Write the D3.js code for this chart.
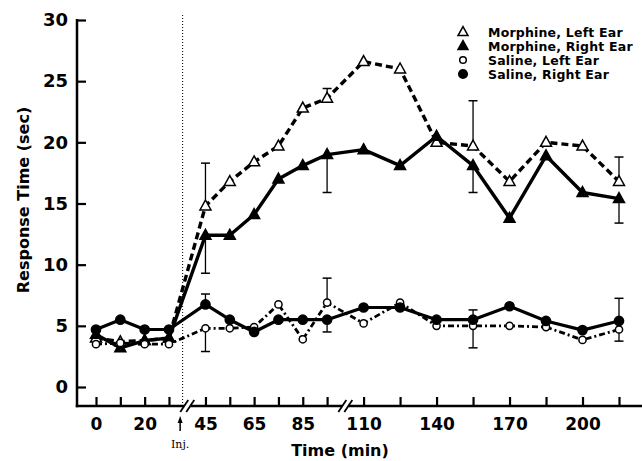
<!DOCTYPE html>
<html><head><meta charset="utf-8">
<script src="https://cdn.jsdelivr.net/npm/d3@7"></script>
<style>body{margin:0;background:#fff}svg{display:block}text{font-family:"DejaVu Sans",sans-serif;fill:#000}</style>
</head><body><svg id="c" width="642" height="461"></svg>
<script>
const times = [0,10,20,30,45,55,65,75,85,95,110,125,140,155,170,185,200,215];
const labelledTicks = [0,20,45,65,85,110,140,170,200];
const yTicks = [0,5,10,15,20,25,30];
const morphineLeft  = [4.0,3.7,3.8,4.0,14.8,16.8,18.4,19.7,22.8,23.6,26.6,26.0,20.0,19.7,16.8,20.0,19.7,16.8];
const morphineRight = [4.3,3.2,3.8,4.0,12.4,12.4,14.1,17.0,18.1,19.0,19.4,18.1,20.5,18.1,13.8,18.9,15.9,15.4];
const salineLeft    = [3.5,3.6,3.5,3.5,4.8,4.8,4.9,6.75,3.9,6.9,5.2,6.9,5.0,5.0,5.0,4.9,3.85,4.7];
const salineRight   = [4.7,5.5,4.7,4.7,6.75,5.5,4.5,5.5,5.5,5.5,6.5,6.5,5.5,5.5,6.6,5.4,4.65,5.4];
// error bars: [series, time, end value]
const errorBars = [
  ["ML",45,18.3],["MR",45,9.3],["ML",95,24.4],["MR",95,15.9],["ML",155,23.4],["MR",155,15.9],["ML",215,18.8],["MR",215,13.4],
  ["SR",45,7.6],["SL",45,2.9],["SL",95,8.9],["SR",95,4.5],["SR",155,6.3],["SL",155,3.2],["SR",215,7.25],["SL",215,3.75]
];
const legendLabels = ["Morphine, Left Ear","Morphine, Right Ear","Saline, Left Ear","Saline, Right Ear"];
const injectionTime = 35;
const breakTimes = [37.5, 102.5];

const svg = d3.select("#c");
const x = d3.scaleLinear().domain([0,215]).range([96,619]);
const y = d3.scaleLinear().domain([0,30]).range([387,20]);
const axisX = 77, axisY = 406;

const series = [
  {key:"ML", data:morphineLeft, marker:"tri", fill:"#fff", dash:"7,4", w:3.4},
  {key:"MR", data:morphineRight, marker:"tri", fill:"#000", dash:null, w:3.4},
  {key:"SL", data:salineLeft, marker:"circ", r:3.6, fill:"#fff", dash:"6,3,2,3", w:2.8},
  {key:"SR", data:salineRight, marker:"circ", r:4.6, fill:"#000", dash:null, w:3.2}
];

// injection dotted line
svg.append("line").attr("x1",x(injectionTime)+1.5).attr("x2",x(injectionTime)+1.5)
  .attr("y1",15).attr("y2",axisY).attr("stroke","#000").attr("stroke-width",1).attr("stroke-dasharray","1,2");

// lines
const line = d3.line().x((d,i)=>x(times[i])).y(d=>y(d));
series.forEach(s=>{
  svg.append("path").attr("d",line(s.data)).attr("fill","none").attr("stroke","#000")
    .attr("stroke-width",s.w).attr("stroke-dasharray",s.dash).attr("stroke-linejoin","round");
});

// error bars
const keyIdx = {ML:morphineLeft,MR:morphineRight,SL:salineLeft,SR:salineRight};
errorBars.forEach(([k,t,v])=>{
  const i = times.indexOf(t);
  const v0 = keyIdx[k][i];
  svg.append("line").attr("x1",x(t)).attr("x2",x(t)).attr("y1",y(v0)).attr("y2",y(v)).attr("stroke","#000").attr("stroke-width",1.3);
  svg.append("line").attr("x1",x(t)-4.5).attr("x2",x(t)+4.5).attr("y1",y(v)).attr("y2",y(v)).attr("stroke","#000").attr("stroke-width",1.5);
});

// markers
function triPath(cx,cy,s){const h=s*0.9;return `M${cx},${cy-h*0.6}L${cx+s/2},${cy+h*0.4}L${cx-s/2},${cy+h*0.4}Z`;}
series.forEach(s=>{
  s.data.forEach((v,i)=>{
    if(s.marker==="tri"){
      svg.append("path").attr("d",triPath(x(times[i]),y(v),11)).attr("fill",s.fill).attr("stroke","#000").attr("stroke-width",1.5);
    } else {
      svg.append("circle").attr("cx",x(times[i])).attr("cy",y(v)).attr("r",s.r).attr("fill",s.fill).attr("stroke","#000").attr("stroke-width",1.5);
    }
  });
});

// axes
const gy = svg.append("g").attr("transform",`translate(${axisX},0)`)
  .call(d3.axisLeft(y).tickValues(yTicks).tickSize(-9).tickPadding(9).tickFormat(d3.format("d")));
gy.select(".domain").remove();
gy.selectAll(".tick line").attr("stroke-width",2.2);
gy.selectAll(".tick text").attr("font-size",18).attr("font-weight","bold");

const gx = svg.append("g").attr("transform",`translate(0,${axisY})`)
  .call(d3.axisBottom(x).tickValues(times).tickSize(-9).tickPadding(12)
    .tickFormat(d=>labelledTicks.includes(d)?d:""));
gx.select(".domain").remove();
gx.selectAll(".tick line").attr("stroke-width",2.2);
gx.selectAll(".tick text").attr("font-size",17).attr("font-weight","bold");

svg.append("line").attr("x1",axisX).attr("x2",axisX).attr("y1",y(30)-1).attr("y2",axisY+1.2).attr("stroke","#000").attr("stroke-width",2.5);
svg.append("line").attr("x1",axisX-1.2).attr("x2",642).attr("y1",axisY).attr("y2",axisY).attr("stroke","#000").attr("stroke-width",2.5);

// breaks
breakTimes.forEach(t=>{
  const cx = x(t);
  svg.append("rect").attr("x",cx-3).attr("y",axisY-3).attr("width",6).attr("height",6).attr("fill","#fff");
  [-3,3].forEach(o=>{
    svg.append("line").attr("x1",cx+o-4).attr("x2",cx+o+4).attr("y1",axisY+6).attr("y2",axisY-6).attr("stroke","#000").attr("stroke-width",1.8);
  });
});

// injection arrow + label
const ix = x(injectionTime)-1;
svg.append("line").attr("x1",ix).attr("x2",ix).attr("y1",431).attr("y2",420).attr("stroke","#000").attr("stroke-width",1.5);
svg.append("path").attr("d",`M${ix},416L${ix+2.5},423L${ix-2.5},423Z`).attr("fill","#000");
svg.append("text").attr("x",ix).attr("y",448).attr("text-anchor","middle").attr("font-size",11)
  .style("font-family","'DejaVu Serif',serif").text("Inj.");

// axis titles
svg.append("text").attr("x",340).attr("y",456).attr("text-anchor","middle").attr("font-size",16).attr("font-weight","bold").text("Time (min)");
svg.append("text").attr("transform","translate(29,200) rotate(-90)").attr("text-anchor","middle").attr("font-size",16).attr("font-weight","bold").text("Response Time (sec)");

// legend
legendLabels.forEach((lab,i)=>{
  const ly = 32 + i*14;
  const s = series[i];
  if(s.marker==="tri"){
    svg.append("path").attr("d",triPath(463,ly,10)).attr("fill",s.fill).attr("stroke","#000").attr("stroke-width",1.5);
  } else {
    svg.append("circle").attr("cx",463).attr("cy",ly).attr("r",s.r-0.3).attr("fill",s.fill).attr("stroke","#000").attr("stroke-width",1.5);
  }
  svg.append("text").attr("x",488).attr("y",ly+4.5).attr("font-size",12.5).attr("letter-spacing",0.2).attr("font-weight","bold").text(lab);
});
</script></body></html>
